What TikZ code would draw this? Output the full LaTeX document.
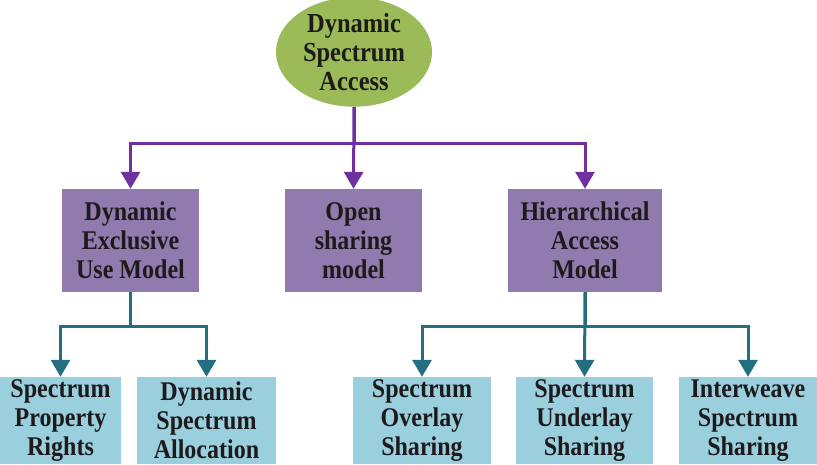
\documentclass[tikz,border=0pt]{standalone}
\usepackage{fontspec}
\setmainfont{Liberation Serif}
\newfontfamily\boxfont[FakeStretch=0.89]{Liberation Serif}
\usepackage{xcolor}
\usetikzlibrary{positioning,arrows.meta,shapes.geometric}
\definecolor{rootgreen}{RGB}{155,187,89}
\definecolor{midpurple}{RGB}{144,122,174}
\definecolor{leafblue}{RGB}{154,207,222}
\definecolor{linepurple}{RGB}{112,48,160}
\definecolor{lineteal}{RGB}{35,110,128}
\definecolor{txt}{RGB}{30,26,27}
\tikzset{
    root/.style={
        ellipse,
        fill=rootgreen,
        minimum width=156pt,
        minimum height=96pt,
        inner sep=0pt,
        align=center,
        text=txt,
        font=\boxfont\fontsize{27.5}{29}\selectfont\bfseries
    },
    model/.style={
        rectangle,
        fill=midpurple,
        minimum height=103pt,
        inner sep=0pt,
        align=center,
        text=txt,
        font=\boxfont\fontsize{27}{29}\selectfont\bfseries
    },
    leaf/.style={
        rectangle,
        fill=leafblue,
        minimum height=87pt,
        inner sep=0pt,
        align=center,
        text=txt,
        font=\boxfont\fontsize{27}{29}\selectfont\bfseries
    },
    parr/.style={-{Triangle[length=17pt,width=19pt]},line width=3pt,linepurple},
    tarr/.style={-{Triangle[length=17pt,width=19pt]},line width=3pt,lineteal}
}
\begin{document}
\begin{tikzpicture}[x=1pt,y=-1pt]
\useasboundingbox (0,0) rectangle (817,464);
\node[root] (dsa) at (354,52) {Dynamic\\Spectrum\\Access};
\node[model,minimum width=137pt] (deum) at (130.5,240.5) {Dynamic\\Exclusive\\Use Model};
\node[model,minimum width=137pt] (osm) at (353.5,240.5) {Open\\sharing\\model};
\node[model,minimum width=154pt] (ham) at (585,240.5) {Hierarchical\\Access\\Model};
\node[leaf,minimum width=121pt] (spr) at (60.5,420.5) {Spectrum\\Property\\Rights};
\node[leaf,minimum width=139pt] (dsal) at (206.5,420.5) {Dynamic\\Spectrum\\Allocation};
\node[leaf,minimum width=138pt] (sos) at (422,420.5) {Spectrum\\Overlay\\Sharing};
\node[leaf,minimum width=137pt] (sus) at (584.5,420.5) {Spectrum\\Underlay\\Sharing};
\node[leaf,minimum width=138pt] (iss) at (748,420.5) {Interweave\\Spectrum\\Sharing};
% top level
\draw[parr] (dsa.south) -- ++(0,37) -| (deum.north);
\draw[parr] (dsa.south) -- ++(0,37) -| (ham.north);
\draw[parr] (dsa.south) -- (osm.north);
% left branch
\draw[tarr] (deum.south) -- ++(0,34) -| (spr.north);
\draw[tarr] (deum.south) -- ++(0,34) -| (dsal.north);
% right branch
\draw[tarr] (ham.south) -- ++(0,34) -| (sos.north);
\draw[tarr] (ham.south) -- ++(0,34) -| (iss.north);
\draw[tarr] (ham.south) -- (sus.north);
\end{tikzpicture}
\end{document}
